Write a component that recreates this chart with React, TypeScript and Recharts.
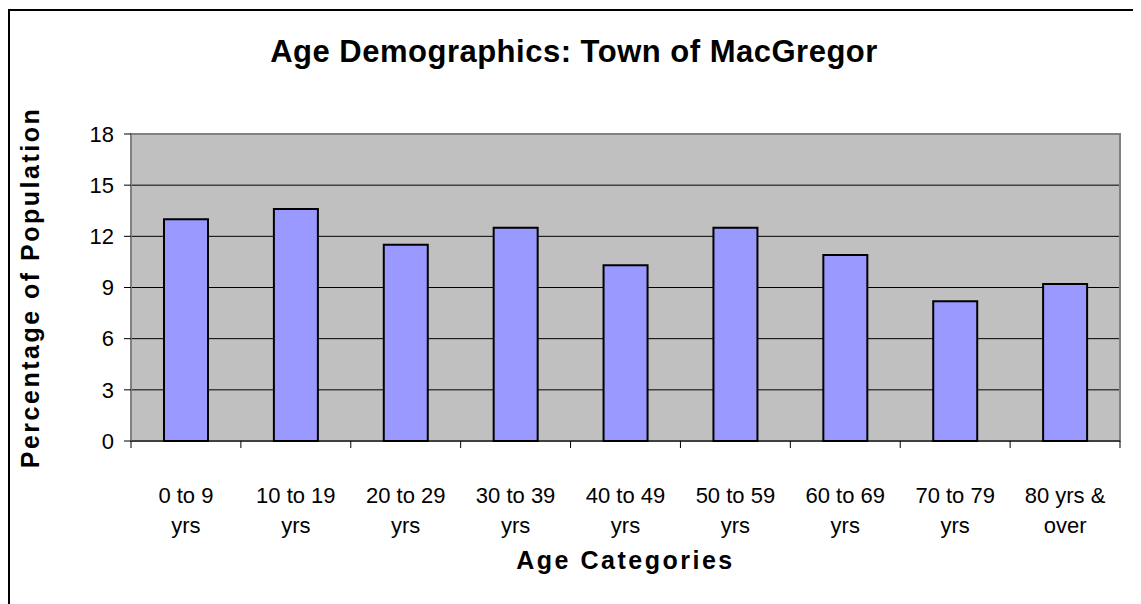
import { Bar, BarChart, CartesianGrid, Label, ReferenceArea, XAxis, YAxis } from "recharts";

const categories = [
  "0 to 9 yrs",
  "10 to 19 yrs",
  "20 to 29 yrs",
  "30 to 39 yrs",
  "40 to 49 yrs",
  "50 to 59 yrs",
  "60 to 69 yrs",
  "70 to 79 yrs",
  "80 yrs & over",
];
const percentages = [13.0, 13.6, 11.5, 12.5, 10.3, 12.5, 10.9, 8.2, 9.2];
const yTicks = [0, 3, 6, 9, 12, 15, 18];

const data = categories.map((name, i) => ({ name, value: percentages[i] }));

const WIDTH = 1133;
const HEIGHT = 596;
const MARGIN = { top: 126, right: 21, left: 0, bottom: 0 };
const Y_AXIS_WIDTH = 123;
const PLOT_WIDTH = WIDTH - MARGIN.left - MARGIN.right - Y_AXIS_WIDTH;
const FONT = 'Arial, "Liberation Sans", sans-serif';

function CategoryTick(props: any) {
  const { x, y, payload, index } = props;
  const label = String(payload.value);
  const cut = label.lastIndexOf(" ");
  const half = PLOT_WIDTH / categories.length / 2;
  return (
    <g>
      <line x1={x - half} x2={x - half} y1={y} y2={y + 7} stroke="#000" />
      {index === categories.length - 1 && (
        <line x1={x + half} x2={x + half} y1={y} y2={y + 7} stroke="#000" />
      )}
      <text x={x} y={y} textAnchor="middle" fontSize={22} fill="#000" fontFamily={FONT}>
        <tspan x={x} dy={62}>{label.slice(0, cut)}</tspan>
        <tspan x={x} dy={30}>{label.slice(cut + 1)}</tspan>
      </text>
    </g>
  );
}

function YTitle(props: any) {
  const vb = props.viewBox || { y: MARGIN.top, height: 307 };
  const cy = vb.y + vb.height / 2;
  return (
    <text
      x={31}
      y={cy}
      transform={`rotate(-90 31 ${cy})`}
      textAnchor="middle"
      fontSize={25}
      fontWeight="bold"
      letterSpacing={2.5}
      fill="#000"
      fontFamily={FONT}
    >
      Percentage of Population
    </text>
  );
}

export default function App() {
  return (
    <div style={{ position: "relative", width: WIDTH, height: HEIGHT, fontFamily: FONT }}>
      <div
        style={{
          position: "absolute",
          left: 0,
          top: 1,
          right: 0,
          bottom: 0,
          borderTop: "2px solid #000",
          borderLeft: "2px solid #000",
        }}
      />
      <svg width={WIDTH} height={80} style={{ position: "absolute", left: 0, top: 0 }}>
        <text
          x={566}
          y={54}
          textAnchor="middle"
          fontSize={31}
          fontWeight="bold"
          letterSpacing={0.5}
          fill="#000"
          fontFamily={FONT}
        >
          Age Demographics: Town of MacGregor
        </text>
      </svg>
      <BarChart width={WIDTH} height={HEIGHT} data={data} margin={MARGIN}>
        <CartesianGrid vertical={false} stroke="#000" fill="#C0C0C0" fillOpacity={1} />
        <XAxis
          dataKey="name"
          height={163}
          tickLine={false}
          tickSize={0}
          tickMargin={0}
          interval={0}
          axisLine={{ stroke: "#000", strokeWidth: 1 }}
          tick={<CategoryTick />}
        >
          <Label
            value="Age Categories"
            position="insideBottom"
            offset={35}
            fontSize={25}
            fontWeight="bold"
            letterSpacing={2.5}
            fill="#000"
            fontFamily={FONT}
          />
        </XAxis>
        <YAxis
          width={Y_AXIS_WIDTH}
          domain={[0, 18]}
          ticks={yTicks}
          interval={0}
          tickSize={7}
          tickMargin={10}
          tickLine={{ stroke: "#000" }}
          axisLine={{ stroke: "#808080" }}
          tick={{ fontSize: 22, fill: "#000", fontFamily: FONT }}
        >
          <Label content={<YTitle />} />
        </YAxis>
        <ReferenceArea y1={0} y2={18} fill="none" stroke="#808080" strokeWidth={2} ifOverflow="visible" />
        <Bar dataKey="value" fill="#9999FF" stroke="#000" strokeWidth={2} barSize={44} isAnimationActive={false} />
      </BarChart>
    </div>
  );
}
